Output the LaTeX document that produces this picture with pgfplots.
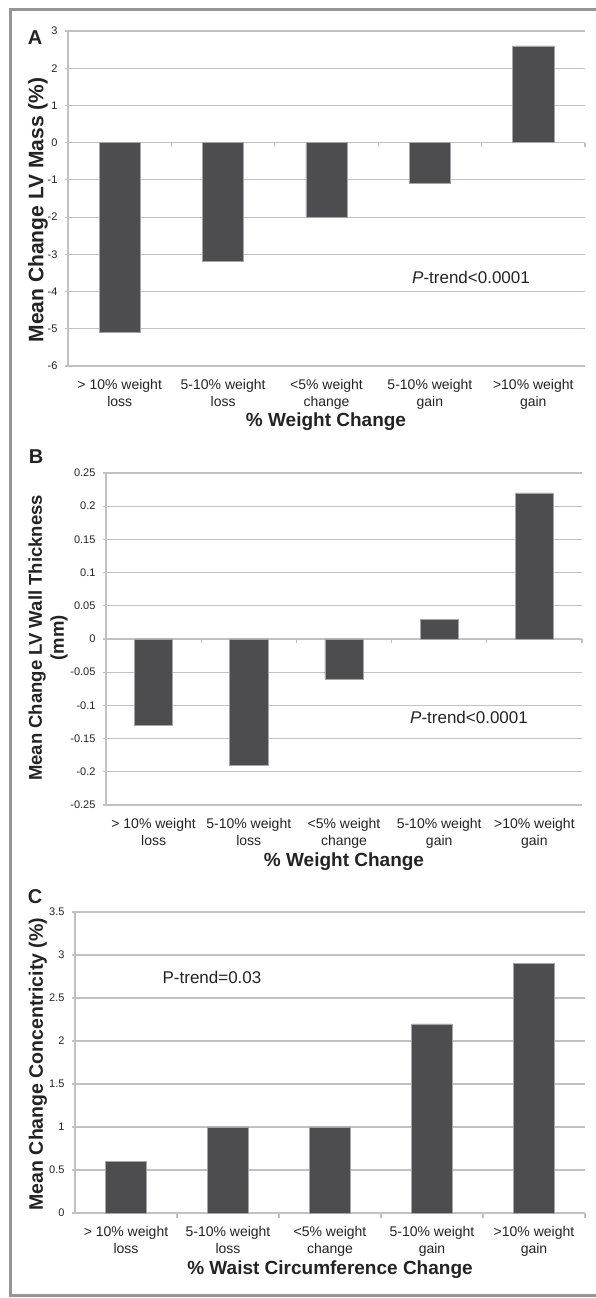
\documentclass[border=0pt]{standalone}
\usepackage{fontspec}
\setmainfont{Liberation Sans}
\usepackage{pgfplots}
\pgfplotsset{compat=1.18}
\definecolor{barc}{RGB}{77,77,80}
\definecolor{barb}{RGB}{165,165,168}
\definecolor{gridc}{RGB}{192,192,198}
\definecolor{framec}{RGB}{150,150,152}
\definecolor{textc}{RGB}{35,35,35}
\pgfplotsset{
 panel/.style={
  scale only axis, anchor=south west,
  axis lines*=left,
  x axis line style={draw=none},
  y axis line style={gridc, line width=1.2pt},
  xmin=-0.5, xmax=4.5,
  xtick={0,1,2,3,4},
  xticklabels={{> 10\% weight\\loss},{5-10\% weight\\loss},{<5\% weight\\change},{5-10\% weight\\gain},{>10\% weight\\gain}},
  xticklabel style={align=center, font=\fontsize{14}{17}\selectfont, text=textc, yshift=-7pt},
  xtick style={draw=none},
  ymajorgrids, grid style={gridc, line width=1.2pt},
  tick align=outside, major tick length=3pt,
  ytick style={gridc, line width=1.2pt},
  yticklabel style={font=\fontsize{11}{13}\selectfont, text=textc, xshift=-4pt},
  ybar, bar width=0.4,
  clip=false,
 },
 mybar/.style={fill=barc, draw=barb, line width=0.6pt},
}
\begin{document}
\begin{tikzpicture}[x=1pt,y=1pt]
% ---------- Panel A ----------
\begin{axis}[panel, at={(68pt,932pt)}, width=517pt, height=335pt,
  ymin=-6, ymax=3,
  ytick={-6,-5,-4,-3,-2,-1,0,1,2,3},
  yticklabels={-6,-5,-4,-3,-2,-1,0,1,2,3}]
\addplot[mybar] coordinates {(0,-5.1) (1,-3.2) (2,-2.0) (3,-1.1) (4,2.6)};
\draw[gridc, line width=1.2pt] (axis cs:0.5,0) -- ([yshift=-4pt]axis cs:0.5,0);
\draw[gridc, line width=1.2pt] (axis cs:1.5,0) -- ([yshift=-4pt]axis cs:1.5,0);
\draw[gridc, line width=1.2pt] (axis cs:2.5,0) -- ([yshift=-4pt]axis cs:2.5,0);
\draw[gridc, line width=1.2pt] (axis cs:3.5,0) -- ([yshift=-4pt]axis cs:3.5,0);
\draw[gridc, line width=1.2pt] (axis cs:4.5,0) -- ([yshift=-4pt]axis cs:4.5,0);
\end{axis}
% ---------- Panel B ----------
\begin{axis}[panel, at={(106pt,493pt)}, width=476pt, height=332pt,
  ymin=-0.25, ymax=0.25,
  ytick={-0.25,-0.2,-0.15,-0.1,-0.05,0,0.05,0.1,0.15,0.2,0.25},
  yticklabels={-0.25,-0.2,-0.15,-0.1,-0.05,0,0.05,0.1,0.15,0.2,0.25}]
\addplot[mybar] coordinates {(0,-0.13) (1,-0.19) (2,-0.06) (3,0.03) (4,0.22)};
\draw[gridc, line width=1.2pt] (axis cs:0.5,0) -- ([yshift=-4pt]axis cs:0.5,0);
\draw[gridc, line width=1.2pt] (axis cs:1.5,0) -- ([yshift=-4pt]axis cs:1.5,0);
\draw[gridc, line width=1.2pt] (axis cs:2.5,0) -- ([yshift=-4pt]axis cs:2.5,0);
\draw[gridc, line width=1.2pt] (axis cs:3.5,0) -- ([yshift=-4pt]axis cs:3.5,0);
\draw[gridc, line width=1.2pt] (axis cs:4.5,0) -- ([yshift=-4pt]axis cs:4.5,0);
\end{axis}
% ---------- Panel C ----------
\begin{axis}[panel, at={(75pt,85pt)}, width=510pt, height=301pt,
  ymin=0, ymax=3.5,
  ytick={0,0.5,1,1.5,2,2.5,3,3.5},
  yticklabels={0,0.5,1,1.5,2,2.5,3,3.5}]
\addplot[mybar] coordinates {(0,0.6) (1,1.0) (2,1.0) (3,2.2) (4,2.9)};
\draw[gridc, line width=1.2pt] (axis cs:0.5,0) -- ([yshift=-5pt]axis cs:0.5,0);
\draw[gridc, line width=1.2pt] (axis cs:1.5,0) -- ([yshift=-5pt]axis cs:1.5,0);
\draw[gridc, line width=1.2pt] (axis cs:2.5,0) -- ([yshift=-5pt]axis cs:2.5,0);
\draw[gridc, line width=1.2pt] (axis cs:3.5,0) -- ([yshift=-5pt]axis cs:3.5,0);
\draw[gridc, line width=1.2pt] (axis cs:4.5,0) -- ([yshift=-5pt]axis cs:4.5,0);
\end{axis}
% ---------- Texts ----------
\begin{scope}[text=textc]
\node[font=\fontsize{20}{24}\selectfont\bfseries] at (35,1260) {A};
\node[font=\fontsize{20}{24}\selectfont\bfseries] at (36,841) {B};
\node[font=\fontsize{20}{24}\selectfont\bfseries] at (35,401) {C};
\node[rotate=90, font=\fontsize{21}{25}\selectfont\bfseries] at (38,1088) {Mean Change LV Mass (\%)};
\node[rotate=90, align=center, font=\fontsize{18.5}{22}\selectfont\bfseries] at (48,660) {Mean Change LV Wall Thickness\\(mm)};
\node[rotate=90, font=\fontsize{19.5}{23}\selectfont\bfseries] at (38,234) {Mean Change Concentricity (\%)};
\node[font=\fontsize{19}{23}\selectfont\bfseries] at (326,876) {\% Weight Change};
\node[font=\fontsize{19}{23}\selectfont\bfseries] at (344,436) {\% Weight Change};
\node[font=\fontsize{19}{23}\selectfont\bfseries] at (330,28) {\% Waist Circumference Change};
\node[font=\fontsize{17}{20}\selectfont] at (471,1021) {\textit{P}-trend<0.0001};
\node[font=\fontsize{17}{20}\selectfont] at (469,581) {\textit{P}-trend<0.0001};
\node[font=\fontsize{17}{20}\selectfont] at (212,321) {P-trend=0.03};
\end{scope}
\draw[framec, line width=3pt] (10,2) rectangle (620,1288);
\pgfresetboundingbox
\useasboundingbox (0,0) rectangle (596,1298);
\end{tikzpicture}
\end{document}
